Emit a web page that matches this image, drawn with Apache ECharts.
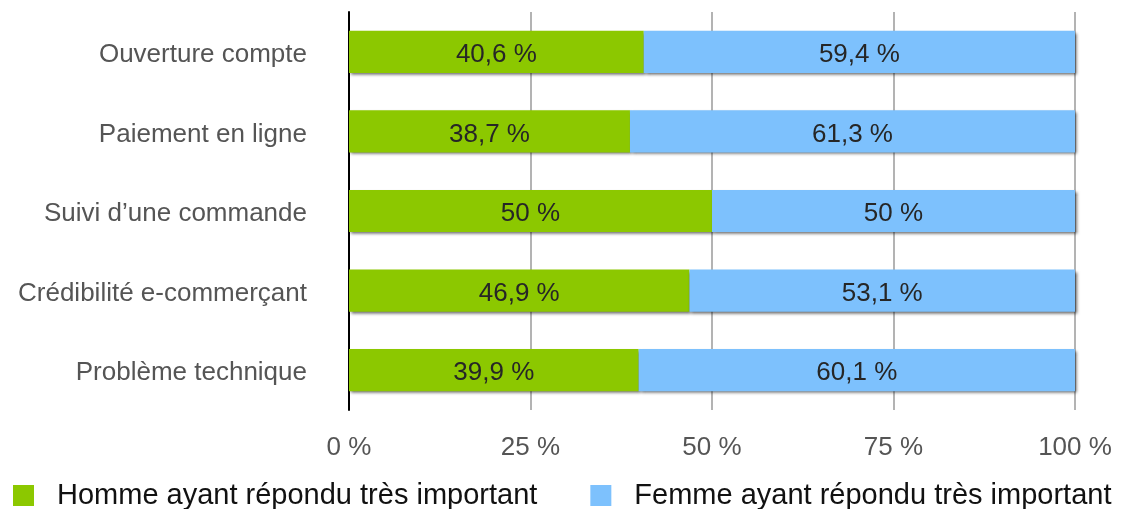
<!DOCTYPE html>
<html>
<head>
<meta charset="utf-8">
<style>
  html, body { margin: 0; padding: 0; background: #ffffff; }
  #chart { width: 1122px; height: 509px; }
</style>
<script src="https://cdn.jsdelivr.net/npm/echarts@6/dist/echarts.min.js"></script>
</head>
<body>
<div id="chart"></div>
<script>
// Categories, listed top to bottom
const categories = [
  'Ouverture compte',
  'Paiement en ligne',
  'Suivi d\u2019une commande',
  'Crédibilité e-commerçant',
  'Problème technique'
];
const hommeValues = [40.6, 38.7, 50, 46.9, 39.9];
const femmeValues = [59.4, 61.3, 50, 53.1, 60.1];
const seriesNames = ['Homme ayant répondu très important', 'Femme ayant répondu très important'];
const xTicks = [0, 25, 50, 75, 100];

const FONT = '"Liberation Sans", Arial, Helvetica, sans-serif';
const fmt = v => String(v).replace('.', ',') + ' %';

const chart = echarts.init(document.getElementById('chart'), null, { renderer: 'canvas' });

const barShadow = {
  shadowColor: 'rgba(0,0,0,0.6)',
  shadowBlur: 3,
  shadowOffsetX: 2,
  shadowOffsetY: 2
};

function makeSeries(name, values, color) {
  return {
    name: name,
    type: 'bar',
    stack: 'total',
    barWidth: '53%',
    data: values.slice().reverse(),
    itemStyle: Object.assign({ color: color }, barShadow),
    label: {
      show: true,
      position: 'inside',
      offset: [0, 3],
      formatter: p => fmt(p.value),
      color: '#262626',
      fontFamily: FONT,
      fontSize: 26
    },
    emphasis: { disabled: true }
  };
}

chart.setOption({
  animation: false,
  textStyle: { fontFamily: FONT },
  grid: { left: 349, right: 47, top: 12, bottom: 99, containLabel: false },
  legend: {
    bottom: -6,
    left: 8,
    itemWidth: 21,
    itemHeight: 21,
    itemGap: 53,
    icon: 'rect',
    textStyle: { fontFamily: FONT, fontSize: 29, color: '#111', padding: [0, 0, 0, 18] },
    data: seriesNames
  },
  xAxis: {
    type: 'value',
    min: xTicks[0],
    max: xTicks[xTicks.length - 1],
    interval: 25,
    axisLine: { show: false },
    axisTick: { show: false },
    axisLabel: {
      formatter: v => v + ' %',
      fontFamily: FONT,
      fontSize: 26,
      color: '#555',
      margin: 25
    },
    splitLine: { show: true, lineStyle: { color: '#b3b3b3', width: 2 } }
  },
  yAxis: {
    type: 'category',
    data: categories.slice().reverse(),
    axisLine: { show: true, lineStyle: { color: '#000', width: 2 } },
    axisTick: { show: false },
    axisLabel: {
      fontFamily: FONT,
      fontSize: 26,
      color: '#555',
      margin: 42,
      verticalAlign: 'top',
      lineHeight: 6
    }
  },
  series: [
    makeSeries(seriesNames[0], hommeValues, '#8cc800'),
    makeSeries(seriesNames[1], femmeValues, '#7dc1fd')
  ]
});
</script>
</body>
</html>
